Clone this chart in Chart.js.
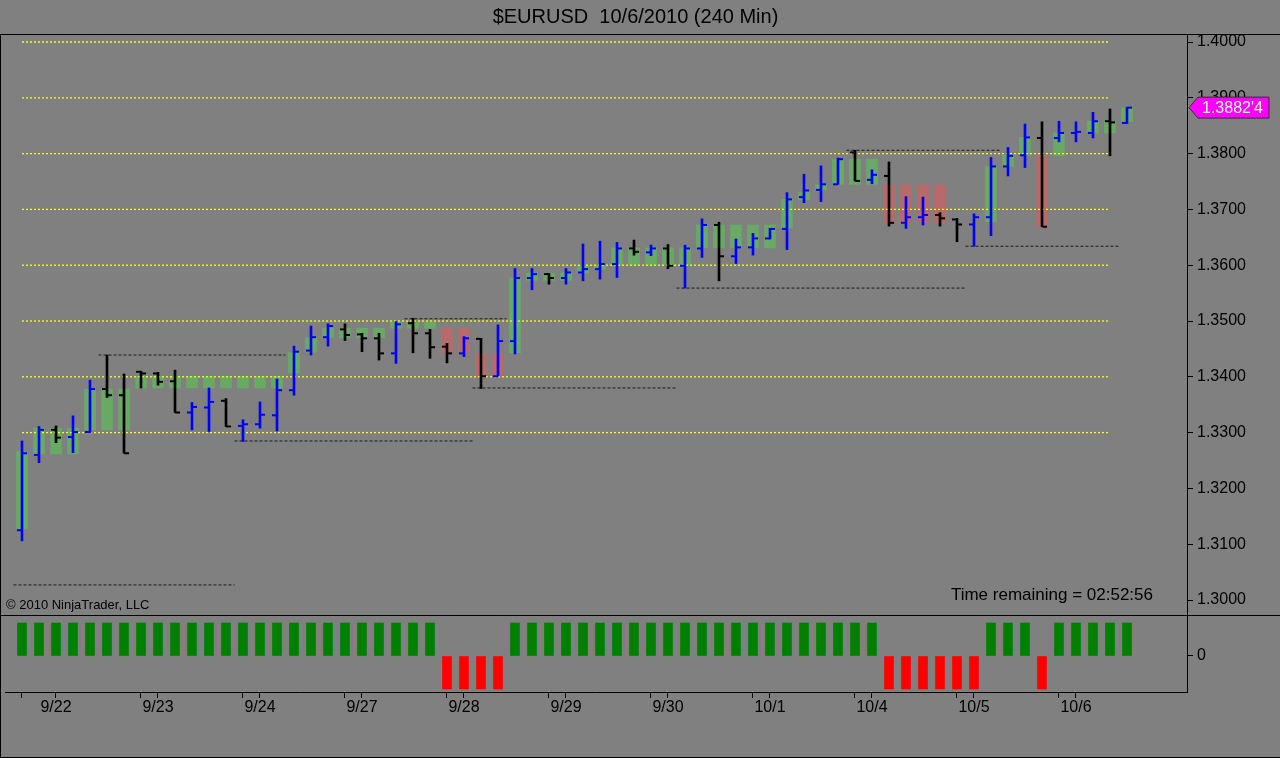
<!DOCTYPE html>
<html>
<head>
<meta charset="utf-8">
<title>$EURUSD 10/6/2010 (240 Min)</title>
<script src="https://cdn.jsdelivr.net/npm/chart.js@4.4.1/dist/chart.umd.min.js"></script>
<style>
html,body{margin:0;padding:0;background:#808080;width:1280px;height:758px;overflow:hidden;font-family:"Liberation Sans",Arial,sans-serif;}
#wrap{position:relative;width:1280px;height:758px;}
.frame{position:absolute;left:0;top:34px;width:1279px;height:722px;border:1px solid #000;border-right:none;}
.sep{position:absolute;left:0;top:615px;width:1280px;height:1px;background:#000;}
#cA{position:absolute;left:0;top:0;}
#cB{position:absolute;left:0;top:615px;}
.copy{position:absolute;left:6px;top:598px;font-size:13px;line-height:13px;color:#000;white-space:nowrap;}
.remain{position:absolute;right:127px;top:586px;font-size:17px;line-height:17px;color:#000;white-space:nowrap;}
</style>
</head>
<body>
<div id="wrap">
  <div class="frame"></div>
  <canvas id="cA" width="1280" height="615"></canvas>
  <canvas id="cB" width="1280" height="143"></canvas>
  <div class="sep"></div>
  <div class="copy">© 2010 NinjaTrader, LLC</div>
  <div class="remain">Time remaining = 02:52:56</div>
</div>
<script>
// ---------------- DATA ----------------
const chartTitle = '$EURUSD  10/6/2010 (240 Min)';

const openP = [1.3125,1.3260,1.3305,1.3292,1.3301,1.3378,1.3367,1.3409,1.3406,1.3392,
               1.3336,1.3345,1.3357,1.3312,1.3315,1.3331,1.3376,1.3447,1.3471,1.3485,
               1.3476,1.3469,1.3442,1.3496,1.3478,1.3454,1.3442,1.3468,1.3401,1.3464,
               1.3577,1.3584,1.3577,1.3587,1.3593,1.3602,1.3630,1.3623,1.3630,1.3599,
               1.3630,1.3672,1.3616,1.3632,1.3648,1.3665,1.3722,1.3735,1.3745,1.3802,
               1.3753,1.3760,1.3676,1.3686,1.3690,1.3682,1.3673,1.3686,1.3777,1.3797,
               1.3828,1.3828,1.3837,1.3837,1.3858,1.3855];
const highP = [1.3285,1.3311,1.3312,1.3330,1.3394,1.3439,1.3405,1.3410,1.3408,1.3412,
               1.3354,1.3380,1.3361,1.3323,1.3355,1.3396,1.3455,1.3491,1.3495,1.3495,
               1.3478,1.3478,1.3499,1.3505,1.3485,1.3460,1.3472,1.3469,1.3493,1.3594,
               1.3594,1.3585,1.3594,1.3638,1.3643,1.3641,1.3645,1.3636,1.3637,1.3636,
               1.3683,1.3677,1.3647,1.3657,1.3666,1.3730,1.3763,1.3778,1.3792,1.3806,
               1.3771,1.3785,1.3723,1.3722,1.3694,1.3684,1.3692,1.3793,1.3811,1.3853,
               1.3857,1.3858,1.3857,1.3874,1.3880,1.3883];
const lowP  = [1.3106,1.3246,1.3282,1.3264,1.3300,1.3363,1.3263,1.3380,1.3385,1.3336,
               1.3305,1.3302,1.3311,1.3284,1.3308,1.3303,1.3367,1.3439,1.3455,1.3465,
               1.3445,1.3430,1.3424,1.3443,1.3433,1.3425,1.3436,1.3379,1.3401,1.3441,
               1.3556,1.3566,1.3566,1.3572,1.3575,1.3578,1.3618,1.3617,1.3594,1.3559,
               1.3614,1.3572,1.3603,1.3618,1.3647,1.3628,1.3712,1.3714,1.3745,1.3751,
               1.3746,1.3670,1.3666,1.3672,1.3670,1.3642,1.3634,1.3653,1.3760,1.3775,
               1.3669,1.3821,1.3821,1.3828,1.3796,1.3854];
const closeP = [1.3263,1.3305,1.3291,1.3301,1.3378,1.3367,1.3263,1.3406,1.3391,1.3336,
               1.3346,1.3355,1.3311,1.3315,1.3332,1.3376,1.3445,1.3471,1.3491,1.3475,
               1.3469,1.3442,1.3494,1.3478,1.3453,1.3442,1.3469,1.3401,1.3464,1.3577,
               1.3584,1.3577,1.3587,1.3593,1.3602,1.3630,1.3624,1.3630,1.3599,1.3630,
               1.3672,1.3616,1.3632,1.3648,1.3665,1.3718,1.3734,1.3745,1.3790,1.3751,
               1.3762,1.3676,1.3686,1.3690,1.3684,1.3673,1.3686,1.3777,1.3796,1.3829,
               1.3669,1.3837,1.3839,1.3858,1.3856,1.38824];

// range boxes behind the price bars (null = no box)
const boxHigh = [1.3266,1.3308,1.3308,1.3308,1.3378,1.3378,1.3378,1.3401,1.3401,1.3401,
                 1.3401,1.3401,1.3401,1.3401,1.3401,1.3401,1.3443,1.3470,1.3487,1.3487,
                 1.3487,1.3487,1.3498,1.3498,1.3498,1.3487,1.3487,1.3441,1.3441,1.3577,
                 1.3586,1.3586,1.3586,1.3599,1.3600,1.3631,1.3631,1.3631,1.3631,1.3631,
                 1.3672,1.3672,1.3672,1.3672,1.3672,1.3718,1.3731,1.3744,1.3790,1.3790,
                 1.3790,1.3744,1.3744,1.3744,1.3744,null,null,1.3777,1.3797,1.3829,
                 1.3797,1.3837,null,1.3858,1.3858,1.3882];
const boxLow  = [1.3128,1.3262,1.3262,1.3262,1.3305,1.3305,1.3305,1.3380,1.3380,1.3380,
                 1.3380,1.3380,1.3380,1.3380,1.3380,1.3380,1.3407,1.3444,1.3470,1.3470,
                 1.3470,1.3470,1.3487,1.3487,1.3487,1.3442,1.3442,1.3400,1.3400,1.3443,
                 1.3573,1.3573,1.3573,1.3586,1.3593,1.3600,1.3600,1.3600,1.3600,1.3600,
                 1.3631,1.3631,1.3631,1.3631,1.3631,1.3667,1.3717,1.3735,1.3745,1.3745,
                 1.3745,1.3676,1.3676,1.3676,1.3676,null,null,1.3678,1.3777,1.3797,
                 1.3669,1.3797,null,1.3837,1.3837,1.3857];

// lower panel signal (+1 green / -1 red)
const signal = [1,1,1,1,1,1,1,1,1,1, 1,1,1,1,1,1,1,1,1,1, 1,1,1,1,1,-1,-1,-1,-1,1,
                1,1,1,1,1,1,1,1,1,1, 1,1,1,1,1,1,1,1,1,1, 1,-1,-1,-1,-1,-1,-1,1,1,1,
                -1,1,1,1,1,1];

// yellow round-number levels
const levelPrices = [1.33,1.34,1.35,1.36,1.37,1.38,1.39,1.40];
const levelFrom = 0, levelTo = 64;

// dashed swing lines
const srPrice = [1.3027,1.3439,1.3285,1.3504,1.3380,1.3559,1.3806,1.3634];
const srFrom  = [-0.5, 4.5, 12.5, 22.5, 26.5, 38.5, 48.5, 55.5];
const srTo    = [12.5, 15.5, 26.5, 28.5, 38.5, 55.5, 57.5, 64.5];

// axis ticks
const priceTicks = [1.30,1.31,1.32,1.33,1.34,1.35,1.36,1.37,1.38,1.39,1.40];
const dateLabels = ['9/22','9/23','9/24','9/27','9/28','9/29','9/30','10/1','10/4','10/5','10/6'];
const dateTickIndex = [2,8,14,20,26,32,38,44,50,56,62];
const sessionTickIndex = [0,7,13,19,25,31,37,43,49,55,61];

// ---------------- CHART ----------------
const FONT = "'Liberation Sans', Arial, sans-serif";
const X_MIN = -1, X_MAX = 68.53;
const Y_MIN = 1.297312, Y_MAX = 1.401434;
const TICK_OFF = 0.15;
const UP = '#0000ff', DOWN = '#000000';
const barColor = i => closeP[i] >= openP[i] ? UP : DOWN;

const last = closeP[closeP.length - 1];
const lastStr = last.toFixed(5);
const lastLabel = lastStr.slice(0, 6) + "'" + lastStr.slice(6);

const boxes = [];
boxHigh.forEach((h, i) => { if (h !== null && boxLow[i] !== null) boxes.push({x: i, y: [boxLow[i], h]}); });

const markerPlugin = {
  id: 'marker',
  afterDraw(chart) {
    const ys = chart.scales.y;
    const ctx = chart.ctx;
    const y = ys.getPixelForValue(last);
    const x0 = ys.left + 2;
    ctx.save();
    ctx.beginPath();
    ctx.moveTo(x0, y);
    ctx.lineTo(x0 + 9, y - 10.5);
    ctx.lineTo(x0 + 80, y - 10.5);
    ctx.lineTo(x0 + 80, y + 10.5);
    ctx.lineTo(x0 + 9, y + 10.5);
    ctx.closePath();
    ctx.fillStyle = '#ff00ff';
    ctx.fill();
    ctx.lineWidth = 1;
    ctx.strokeStyle = '#303030';
    ctx.stroke();
    ctx.fillStyle = '#ffffff';
    ctx.font = '16px ' + FONT;
    ctx.textBaseline = 'middle';
    ctx.textAlign = 'left';
    ctx.fillText(lastLabel, x0 + 13, y + 1);
    ctx.restore();
  }
};

const datasetsA = [];
datasetsA.push({
  type: 'bar', data: boxes, grouped: false, barThickness: 11, order: 10,
  backgroundColor: c => signal[c.raw.x] > 0 ? 'rgb(104,170,100)' : 'rgb(182,106,106)'
});
levelPrices.forEach(v => datasetsA.push({
  type: 'line', data: [{x: levelFrom, y: v}, {x: levelTo, y: v}], order: 8,
  borderColor: '#ffff00', borderWidth: 1.3, borderDash: [2, 2], pointRadius: 0, tension: 0
}));
srPrice.forEach((v, k) => datasetsA.push({
  type: 'line', data: [{x: srFrom[k], y: v}, {x: srTo[k], y: v}], order: 7,
  borderColor: '#1a1a1a', borderWidth: 1, borderDash: [3, 2], pointRadius: 0, tension: 0
}));
datasetsA.push({
  type: 'bar', data: highP.map((h, i) => ({x: i, y: [lowP[i], h]})), grouped: false,
  barThickness: 2, order: 3, backgroundColor: c => barColor(c.dataIndex)
});
datasetsA.push({
  type: 'scatter', data: openP.map((v, i) => ({x: i - TICK_OFF, y: v})), order: 2,
  pointStyle: 'line', pointRadius: 2.5, pointBorderWidth: 2,
  pointBorderColor: c => barColor(c.dataIndex)
});
datasetsA.push({
  type: 'scatter', data: closeP.map((v, i) => ({x: i + TICK_OFF, y: v})), order: 1,
  pointStyle: 'line', pointRadius: 2.5, pointBorderWidth: 2,
  pointBorderColor: c => barColor(c.dataIndex)
});

new Chart(document.getElementById('cA'), {
  type: 'bar',
  data: {datasets: datasetsA},
  plugins: [markerPlugin],
  options: {
    responsive: false, animation: false, events: [],
    layout: {autoPadding: false, padding: {left: 5, right: 14, top: 0, bottom: 0}},
    plugins: {
      legend: {display: false}, tooltip: {enabled: false},
      title: {display: true, text: chartTitle, color: '#000',
              font: {family: FONT, size: 20, weight: 'normal', lineHeight: '20px'},
              padding: {top: 7, bottom: 7}}
    },
    scales: {
      x: {type: 'linear', display: false, min: X_MIN, max: X_MAX, offset: false, grid: {offset: false}},
      y: {
        type: 'linear', position: 'right', min: Y_MIN, max: Y_MAX,
        afterBuildTicks: s => { s.ticks = priceTicks.map(v => ({value: v})); },
        afterFit: s => { s.width = 79; s.paddingTop = 0; s.paddingBottom = 0; },
        ticks: {color: '#000', padding: 4, font: {family: FONT, size: 16}, callback: v => Number(v).toFixed(4)},
        grid: {drawOnChartArea: false, drawTicks: true, tickLength: 6, color: '#000'},
        border: {display: true, color: '#000', width: 1}
      }
    }
  }
});

const allTicks = sessionTickIndex.concat(dateTickIndex).sort((a, b) => a - b);

new Chart(document.getElementById('cB'), {
  type: 'bar',
  data: {datasets: [{
    type: 'bar', data: signal.map((v, i) => ({x: i, y: v})), grouped: false, barThickness: 9,
    backgroundColor: c => c.raw.y > 0 ? '#008000' : '#ff0000'
  }]},
  options: {
    responsive: false, animation: false, events: [],
    layout: {autoPadding: false, padding: {left: 5, right: 0, top: 0, bottom: 0}},
    plugins: {legend: {display: false}, tooltip: {enabled: false}},
    scales: {
      x: {
        type: 'linear', min: X_MIN, max: X_MAX, offset: false,
        afterBuildTicks: s => { s.ticks = allTicks.map(v => ({value: v})); },
        afterFit: s => { s.height = 66; s.paddingLeft = 0; s.paddingRight = 0; },
        ticks: {autoSkip: false, maxRotation: 0, minRotation: 0, padding: 0, color: '#000',
                font: {family: FONT, size: 16},
                callback: v => { const k = dateTickIndex.indexOf(v); return k >= 0 ? dateLabels[k] : ''; }},
        grid: {offset: false, drawOnChartArea: false, drawTicks: true, tickLength: 6, color: '#000'},
        border: {display: true, color: '#000', width: 1}
      },
      y: {
        type: 'linear', position: 'right', min: -1.0909, max: 1.2424,
        afterBuildTicks: s => { s.ticks = [{value: 0}]; },
        afterFit: s => { s.width = 93; s.paddingTop = 0; s.paddingBottom = 0; },
        ticks: {color: '#000', padding: 4, font: {family: FONT, size: 16}, callback: v => String(v)},
        grid: {drawOnChartArea: false, drawTicks: true, tickLength: 6, color: '#000'},
        border: {display: true, color: '#000', width: 1}
      }
    }
  }
});
</script>
</body>
</html>
